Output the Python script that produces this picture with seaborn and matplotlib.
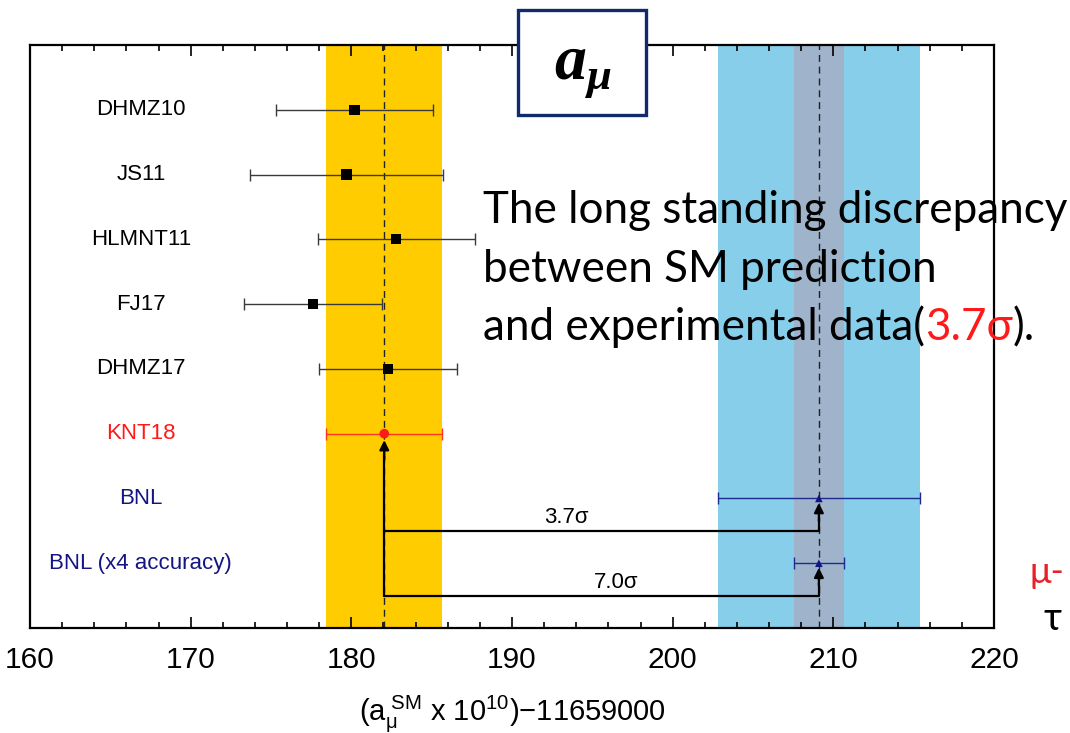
import numpy as np
import pandas as pd
import matplotlib
matplotlib.use("Agg")
import matplotlib.pyplot as plt
import seaborn as sns
from matplotlib.patches import Rectangle
from matplotlib.ticker import MultipleLocator

# Muon g-2: SM evaluations vs BNL measurement
labels = ["DHMZ10", "JS11", "HLMNT11", "FJ17", "DHMZ17", "KNT18",
          "BNL", "BNL (x4 accuracy)"]
values = [180.2, 179.7, 182.8, 177.6, 182.3, 182.05, 209.1, 209.1]
errors = [4.9, 6.0, 4.9, 4.3, 4.3, 3.6, 6.3, 1.575]
groups = ["SM"] * 5 + ["KNT18"] + ["BNL"] * 2
sigma_labels = ["3.7σ", "7.0σ"]
x_ticks = [160, 170, 180, 190, 200, 210, 220]

df = pd.DataFrame({"label": labels, "value": values, "error": errors,
                   "group": groups, "row": np.arange(1, len(labels) + 1)})

sns.set_theme(style="white")
plt.rcParams["font.family"] = ["Liberation Sans", "DejaVu Sans"]
plt.rcParams["text.color"] = "black"
plt.rcParams["xtick.color"] = "black"
plt.rcParams["axes.labelcolor"] = "black"
plt.rcParams["mathtext.fontset"] = "custom"
plt.rcParams["mathtext.rm"] = "Liberation Sans"
plt.rcParams["mathtext.it"] = "Liberation Sans:italic"
plt.rcParams["mathtext.bf"] = "Liberation Serif:bold:italic"

W, H = 1070, 733
fig = plt.figure(figsize=(W / 100, H / 100), dpi=100)
fig.patch.set_facecolor("white")
ax = fig.add_axes([30 / W, 1 - 628 / H, 964 / W, 583 / H])

colors = {"SM": "black", "KNT18": "#ff1a1a", "BNL": "#141482"}
bar_colors = {"SM": "#3a3a3a", "KNT18": "#ff3322", "BNL": "#1f2a8f"}
markers = {"SM": "s", "KNT18": "o", "BNL": "^"}
sizes = {"SM": 55, "KNT18": 48, "BNL": 30}

# reference bands: KNT18 prediction and BNL measurement (full and x4 accuracy)
knt = df[df.label == "KNT18"].iloc[0]
bnl = df[df.label == "BNL"].iloc[0]
bnl4 = df[df.label == "BNL (x4 accuracy)"].iloc[0]
ax.axvspan(knt.value - knt.error, knt.value + knt.error, color="#ffcc00", lw=0, zorder=0)
ax.axvspan(bnl.value - bnl.error, bnl.value + bnl.error, color="#87ceeb", lw=0, zorder=0)
ax.axvspan(bnl4.value - bnl4.error, bnl4.value + bnl4.error, color="#9fb3ca", lw=0, zorder=0.5)
for v in (knt.value, bnl.value):
    ax.axvline(v, color="#222222", lw=1.0, ls=(0, (5, 3.5)), zorder=1)

# horizontal error bars
for g, sub in df.groupby("group"):
    ax.errorbar(sub.value, sub.row, xerr=sub.error, fmt="none",
                ecolor=bar_colors[g], elinewidth=1.0, capsize=4, capthick=1.0, zorder=3)

sns.scatterplot(data=df, x="value", y="row", hue="group", style="group",
                size="group", palette=colors, markers=markers, sizes=sizes,
                edgecolor="none", legend=False, ax=ax, zorder=5)

# row labels
for _, r in df.iterrows():
    ax.text(166.9, r.row, r.label, ha="center", va="center", fontsize=16,
            color=colors[r.group], zorder=6)

# significance brackets
arrow_kw = dict(arrowstyle="-|>", lw=1.6, color="black", mutation_scale=14,
                shrinkA=0, shrinkB=0)
ax.plot([knt.value, knt.value], [8.5, 6.3], color="black", lw=1.6, zorder=4)
ax.annotate("", xy=(knt.value, 6.1), xytext=(knt.value, 6.4), arrowprops=arrow_kw, zorder=4)
for yb, target, txt, tx in [(7.5, bnl, sigma_labels[0], 193.4), (8.5, bnl4, sigma_labels[1], 196.5)]:
    ax.plot([knt.value, target.value, target.value], [yb, yb, yb - 0.2],
            color="black", lw=1.6, zorder=4)
    ax.annotate("", xy=(target.value, target.row + 0.07), xytext=(target.value, yb - 0.15),
                arrowprops=arrow_kw, zorder=4)
    ax.text(tx, yb - 0.2, txt, ha="center", va="center", fontsize=16, zorder=6)

ax.set_xlim(160, 220)
ax.set_ylim(9, 0)
ax.set_yticks([])
ax.set_ylabel("")
ax.set_xticks(x_ticks)
ax.xaxis.set_minor_locator(MultipleLocator(2))
ax.tick_params(axis="x", which="both", direction="in", top=True, bottom=True,
               labelsize=21.5, pad=13, color="black", width=1.2)
ax.tick_params(axis="x", which="major", length=8)
ax.tick_params(axis="x", which="minor", length=4.5)
for s in ax.spines.values():
    s.set_color("black")
    s.set_linewidth(1.6)
ax.set_xlabel(r"(a$_{\mathrm{\mu}}^{\ \mathrm{SM}}$ x 10$^{10}$)$-$11659000",
              fontsize=21, labelpad=14)

# title box
fig.add_artist(Rectangle((518 / W, 1 - 115 / H), 128 / W, 105 / H,
                         transform=fig.transFigure, facecolor="white",
                         edgecolor="#102a6b", lw=2.4, zorder=10))
fig.text(583 / W, 1 - 79 / H, r"$\mathbf{a}_{\mathbf{\mu}}$", ha="center",
         va="baseline", fontsize=46, zorder=11)

# annotation text
note_font = ["Lato", "DejaVu Sans"]
fs = 31.7
fig.text(483 / W, 1 - 223 / H, "The long standing discrepancy", fontsize=fs,
         family=note_font, va="baseline", zorder=12)
fig.text(483 / W, 1 - 282 / H, "between SM prediction", fontsize=fs,
         family=note_font, va="baseline", zorder=12)

# third line: pieces laid end to end, the significance in red
renderer = fig.canvas.get_renderer()
x_px = 483
for piece, col in [("and experimental data(", "black"), ("3.7σ", "#ff1a1a"), (").", "black")]:
    t = fig.text(x_px / W, 1 - 340 / H, piece, fontsize=fs, family=note_font,
                 color=col, va="baseline", zorder=12)
    x_px += t.get_window_extent(renderer).width

# neighbouring slide labels at the right edge
fig.text(1030 / W, 1 - 583 / H, "μ-", fontsize=26, family=note_font,
         color="#e8202a", va="baseline", zorder=12)
fig.text(1044 / W, 1 - 630 / H, "τ", fontsize=28, family=note_font,
         color="black", va="baseline", zorder=12)

fig.savefig("out.png", dpi=100)
